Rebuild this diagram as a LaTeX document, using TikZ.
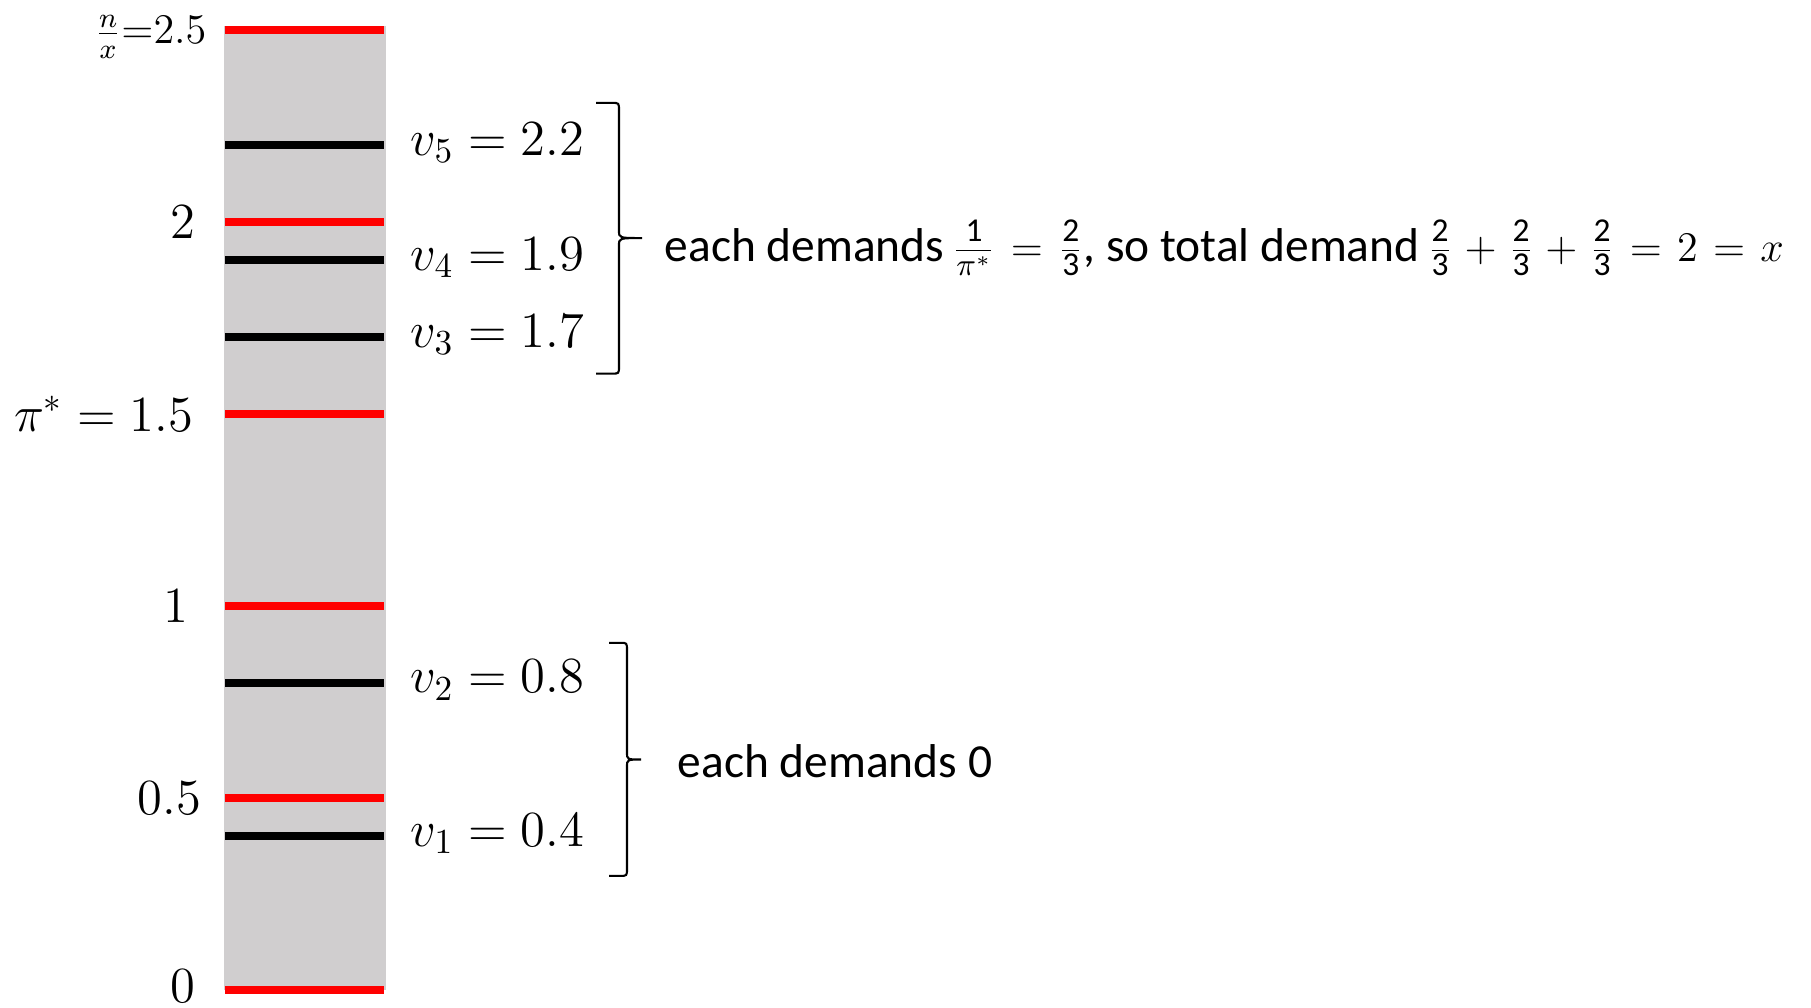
\documentclass[tikz,border=0pt]{standalone}
\usepackage{amsmath}
\usepackage{fontspec}
\setmainfont{Carlito}
\usetikzlibrary{positioning}
\definecolor{bargray}{RGB}{208,206,207}
\newcommand{\smallmath}{\fontsize{12.5}{15}\selectfont\thickmuskip=6.5mu\medmuskip=5mu}
\newcommand{\fracnum}[1]{\text{\fontsize{9.5}{11}\selectfont\rule[-2pt]{0pt}{8.5pt}#1}}

\begin{document}
\begin{tikzpicture}[x=1cm,y=3.84cm,font=\fontsize{14}{17}\selectfont,
  level/.style={line width=2.3pt},
  price/.style={level,red},
  value/.style={level,black},
  tick/.style={anchor=east,inner sep=0pt},
  vlabel/.style={anchor=base west,inner sep=0pt,yshift=-0.10cm},
  note/.style={anchor=base west,inner sep=0pt,font=\fontsize{13.5}{16}\selectfont},
  brace/.style={line width=0.6pt}]
\useasboundingbox (0,-0.0469) rectangle (18.11,2.578);
% the bar
\fill[bargray] (2.24,0) rectangle (3.86,2.51);
\foreach \p in {0,0.5,1,1.5,2,2.5}
  \draw[price] (2.25,\p) -- (3.84,\p);
\foreach \val/\i in {0.4/1,0.8/2,1.7/3,1.9/4,2.2/5}{
  \draw[value] (2.25,\val) -- (3.84,\val);
  \node[vlabel] (v\i) at (4.10,\val) {$v_{\i} = \val$};
}
% prices on the left
\node[tick,font=\fontsize{12}{14}\selectfont] (top) at (2.07,2.482) {$\frac{n}{x}{=}2.5$};
\node[tick] (two) at (1.96,2) {$2$};
\node[tick] (pistar) at (1.94,1.5) {$\pi^* = 1.5$};
\node[tick] (one) at (1.89,1) {$1$};
\node[tick] (half) at (2.02,0.5) {$0.5$};
\node[tick] (zero) at (1.96,0.01) {$0$};
% braces
\draw[brace] (5.96,2.310) -- (6.12,2.310) .. controls (6.19,2.310) .. (6.19,2.290)
  -- (6.19,1.977) .. controls (6.19,1.958) .. (6.42,1.958)
  .. controls (6.19,1.958) .. (6.19,1.939) -- (6.19,1.625)
  .. controls (6.19,1.605) .. (6.12,1.605) -- (5.96,1.605);
\draw[brace] (6.09,0.904) -- (6.20,0.904) .. controls (6.27,0.904) .. (6.27,0.884)
  -- (6.27,0.619) .. controls (6.27,0.600) .. (6.41,0.600)
  .. controls (6.27,0.600) .. (6.27,0.581) -- (6.27,0.317)
  .. controls (6.27,0.297) .. (6.20,0.297) -- (6.09,0.297);
% demands
\node[note] (high) at (6.64,1.898) {each demands\,{\smallmath$\frac{\fracnum{1}}{\pi^*}=\frac{\fracnum{2}}{\fracnum{3}}$}, so total demand\,{\smallmath$\frac{\fracnum{2}}{\fracnum{3}}+\frac{\fracnum{2}}{\fracnum{3}}+\frac{\fracnum{2}}{\fracnum{3}}=2=x$}};
\node[note] (low) at (6.77,0.552) {each demands 0};
\end{tikzpicture}
\end{document}
